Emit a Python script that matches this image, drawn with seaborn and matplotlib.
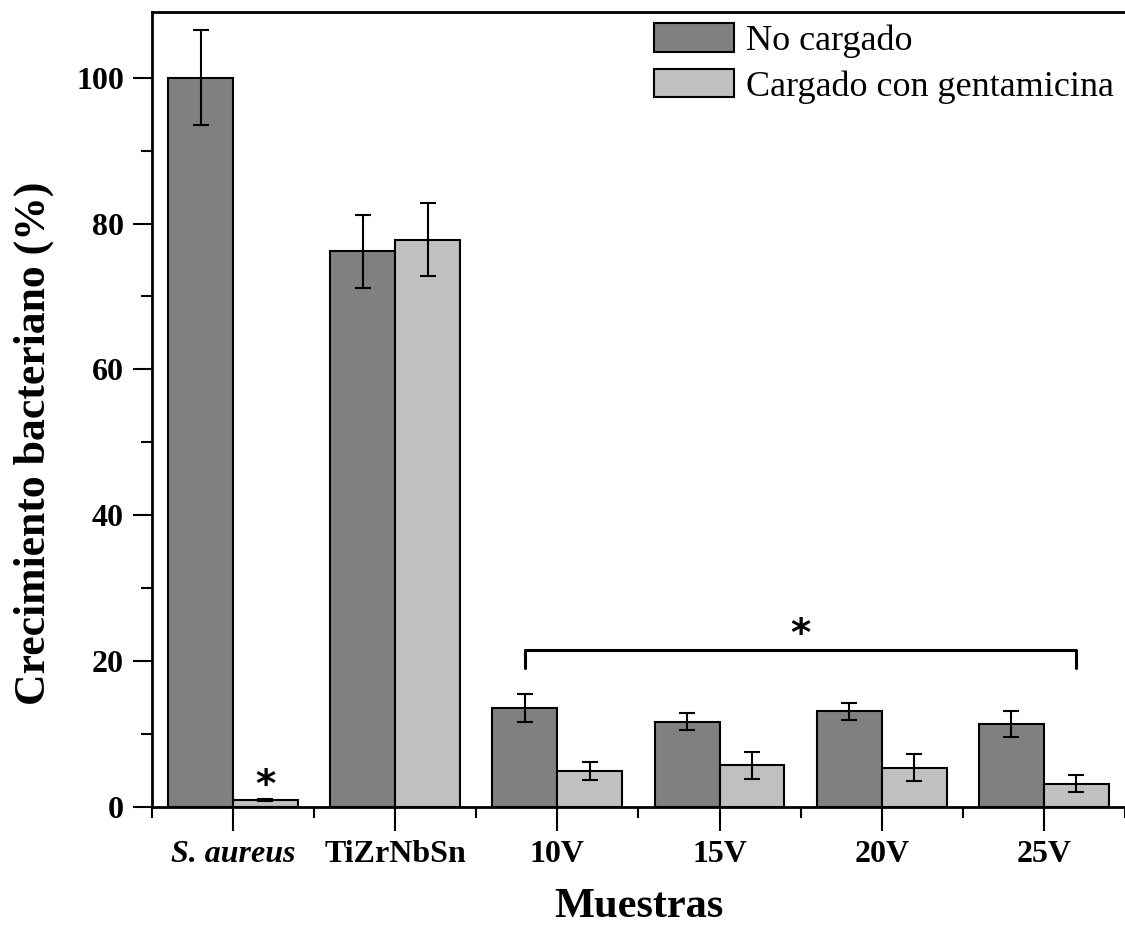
import numpy as np
import pandas as pd
import matplotlib
matplotlib.use('Agg')
import matplotlib.pyplot as plt
import seaborn as sns
from matplotlib.ticker import MultipleLocator

# Data
muestras = ['S. aureus', 'TiZrNbSn', '10V', '15V', '20V', '25V']
grupos = ['No cargado', 'Cargado con gentamicina']
no_cargado = [100.0, 76.2, 13.6, 11.7, 13.1, 11.4]
no_cargado_err = [6.5, 5.0, 1.9, 1.15, 1.2, 1.75]
cargado = [0.9, 77.8, 4.9, 5.7, 5.4, 3.2]
cargado_err = [0.15, 5.0, 1.25, 1.8, 1.8, 1.15]

df = pd.DataFrame({
    'Muestra': muestras * 2,
    'Grupo': [grupos[0]] * len(muestras) + [grupos[1]] * len(muestras),
    'Valor': no_cargado + cargado,
    'Error': no_cargado_err + cargado_err,
})

sns.set_style('ticks')
plt.rcParams['font.family'] = ['Liberation Serif', 'DejaVu Serif']
plt.rcParams.update({'text.color': 'black', 'axes.labelcolor': 'black',
                     'xtick.color': 'black', 'ytick.color': 'black',
                     'axes.edgecolor': 'black'})

fig = plt.figure(figsize=(11.25, 9.27), dpi=100)
ax = fig.add_axes([0.135, 0.1295, 0.865, 0.8575])

sns.barplot(data=df, x='Muestra', y='Valor', hue='Grupo', order=muestras, hue_order=grupos,
            palette=['#808080', '#c0c0c0'], saturation=1, edgecolor='black', linewidth=1.5,
            width=0.8, errorbar=None, ax=ax)

# error bars on top of each bar
errs = [no_cargado_err, cargado_err]
for cont, err in zip(ax.containers, errs):
    xs = [p.get_x() + p.get_width() / 2 for p in cont]
    ys = [p.get_height() for p in cont]
    ax.errorbar(xs, ys, yerr=err, fmt='none', ecolor='black', elinewidth=1.5,
                capsize=5.5, capthick=1.5, zorder=5)

ax.set_xlim(-0.5, 5.5)
ax.set_ylim(0, 109)
ax.yaxis.set_major_locator(MultipleLocator(20))
ax.yaxis.set_minor_locator(MultipleLocator(10))
ax.set_xticks(np.arange(-0.5, 6, 1), minor=True)

ax.tick_params(axis='both', which='major', direction='out', width=1.5, labelsize=23)
ax.tick_params(axis='y', which='major', length=14, pad=6)
ax.tick_params(axis='x', which='major', length=17, pad=7)
ax.tick_params(axis='both', which='minor', direction='out', width=1.5, length=8)
for lab in ax.get_xticklabels() + ax.get_yticklabels():
    lab.set_fontweight('bold')
ax.get_xticklabels()[0].set_style('italic')

for s in ['left', 'bottom', 'top']:
    ax.spines[s].set_linewidth(2)
ax.spines['right'].set_visible(False)

ax.set_xlabel('Muestras', fontsize=30.5, fontweight='bold', va='baseline')
ax.xaxis.set_label_coords(0.5, -0.138)
ax.set_ylabel('Crecimiento bacteriano (%)', fontsize=31.5, fontweight='bold')
ax.yaxis.set_label_coords(-0.1007, 0.458)

# significance marks
dark = ax.containers[0]
light = ax.containers[1]
x0 = dark[2].get_x() + dark[2].get_width() / 2
x1 = light[5].get_x() + light[5].get_width() / 2
ax.plot([x0, x0, x1, x1], [19.1, 21.5, 21.5, 19.1], color='black', lw=2.2)
ax.text((x0 + x1) / 2, 22.1, '*', ha='center', va='baseline', fontsize=28,
        fontweight='bold', family='DejaVu Sans')
xs0 = light[0].get_x() + light[0].get_width() / 2
ax.text(xs0, 1.3, '*', ha='center', va='baseline', fontsize=28,
        fontweight='bold', family='DejaVu Sans')

leg = ax.legend(loc='upper right', bbox_to_anchor=(1.0, 1.0), frameon=False, fontsize=26,
                handlelength=2.2, handleheight=0.85, handletextpad=0.35, labelspacing=0.3,
                borderaxespad=0.1, borderpad=0.2)
for h in leg.legend_handles:
    h.set_edgecolor('black')
    h.set_linewidth(1.5)

fig.savefig('out.png', dpi=100)
